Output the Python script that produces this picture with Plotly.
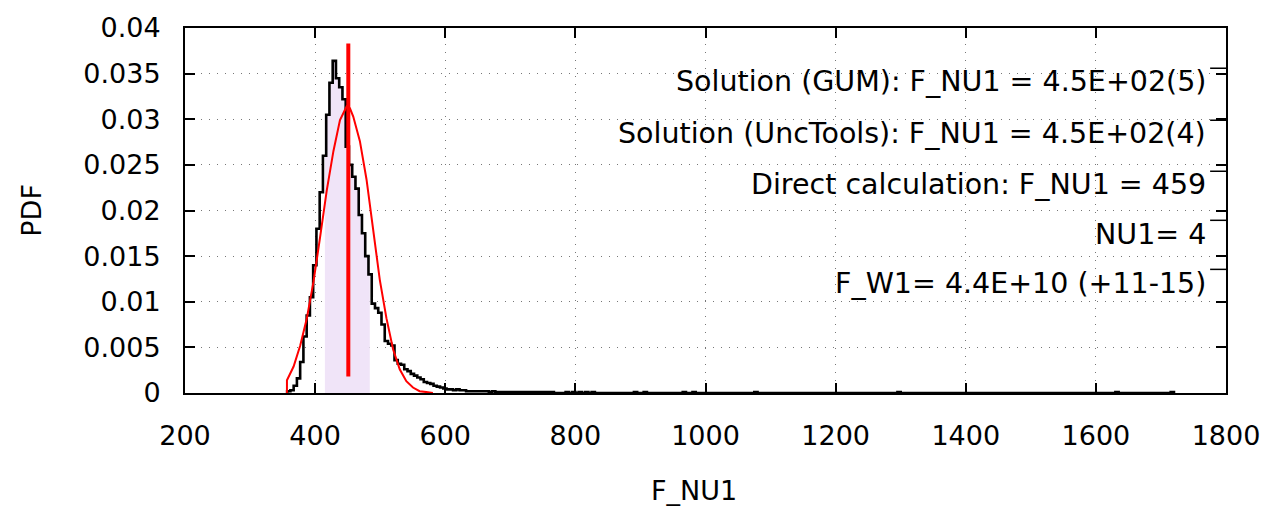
import plotly.graph_objects as go

# ---------------- data ----------------
hist_start = 357.0
bin_width = 5.0
hist_values = [
    0.0002, 0.0003, 0.0008, 0.0016, 0.0034, 0.0062, 0.0085, 0.0105, 0.0140, 0.0180,
    0.0220, 0.0260, 0.0305, 0.0340, 0.0364, 0.0345, 0.0335, 0.0322, 0.0270, 0.0250,
    0.0237, 0.0224, 0.0195, 0.0175, 0.0150, 0.0130, 0.0098, 0.0093, 0.0088, 0.0075,
    0.0057, 0.0054, 0.0052, 0.0036, 0.0032, 0.0031, 0.0026, 0.0024, 0.0021, 0.0019,
    0.0017, 0.0015, 0.0012, 0.0011, 0.0010, 0.0008, 0.0007, 0.0006, 0.0005, 0.0004,
    0.0004, 0.0003, 0.0004, 0.0003, 0.0003, 0.0002, 0.0002, 0.0002, 0.0002, 0.0002,
    0.0002, 0.0002, 0.0001, 0.0002, 0.0001, 0.0001, 0.0001, 0.0001, 0.0001, 0.0001,
    0.0001, 0.0001, 0.0001, 0.0001, 0.0001, 0.0001, 0.0001, 0.0001, 0.0001, 0.0001,
    0.0001, 0.0001,
]
# sparse far-tail bins (x left edge, value)
tail_x = [785, 795, 805, 815, 825, 890, 905, 965, 980, 1075, 1295, 1630, 1715]
tail_y = [0.0001, 0.0001, 0.0001, 0.0001, 0.0001, 0.0001, 0.0001, 0.0001, 0.0001,
          0.0001, 0.0001, 0.0001, 0.0001]

gum_x = [356.7, 356.7, 366.9, 377.1, 387.3, 397.5, 407.7, 417.9, 428.1, 438.2, 448.4,
         453.5, 458.6, 468.8, 479.0, 489.2, 499.4, 509.6, 519.8, 530.0, 540.2, 550.4,
         560.6, 570.8, 581.0]
gum_y = [0.0, 0.0014, 0.0029, 0.0052, 0.0082, 0.0122, 0.0171, 0.0222, 0.0265, 0.0299,
         0.0314, 0.0312, 0.0303, 0.0276, 0.0234, 0.0181, 0.0124, 0.0082, 0.0048, 0.0026,
         0.0013, 0.0006, 0.0002, 0.0001, 0.0]

mean_x = 451.0
mean_line_y = [0.0018, 0.0383]
ci_low, ci_high = 415.0, 484.0

labels = [
    "Solution (GUM): F_NU1 = 4.5E+02(5)",
    "Solution (UncTools): F_NU1 = 4.5E+02(4)",
    "Direct calculation: F_NU1 = 459",
    "NU1= 4",
    "F_W1= 4.4E+10 (+11-15)",
]
x_ticks = [200, 400, 600, 800, 1000, 1200, 1400, 1600, 1800]
y_ticks = [0, 0.005, 0.01, 0.015, 0.02, 0.025, 0.03, 0.035, 0.04]

# ---------------- geometry helpers ----------------
W, H = 1272, 509
L, R, T, B = 185, 38, 21, 116
pw, ph = W - L - R, H - T - B


def px2x(px):
    return (px - L) / pw


def py2y(py):
    return (H - B - py) / ph


# build histogram step arrays
edges = [hist_start + i * bin_width for i in range(len(hist_values))]
hx = [hist_start] + edges + [edges[-1] + bin_width]
hy = [0.0] + hist_values + [0.0]
for tx, ty in zip(tail_x, tail_y):
    hx += [tx, tx + bin_width]
    hy += [ty, 0.0]

# coverage interval fill under histogram
fx, fy = [ci_low], [0.0]
for e, v in zip(edges, hist_values):
    lo, hi = max(e, ci_low), min(e + bin_width, ci_high)
    if lo < hi:
        fx += [lo, hi]
        fy += [v, v]
fx += [ci_high]
fy += [0.0]

fig = go.Figure()
fig.add_trace(go.Scatter(x=fx, y=fy, mode="lines", fill="toself",
                         fillcolor="rgb(240,228,248)", line=dict(width=0),
                         hoverinfo="skip", showlegend=False))
fig.add_trace(go.Scatter(x=hx, y=hy, mode="lines", line=dict(color="black", width=2.6, shape="hv"),
                         showlegend=False))
fig.add_trace(go.Scatter(x=gum_x, y=gum_y, mode="lines", line=dict(color="#ff0000", width=2),
                         showlegend=False))
fig.add_trace(go.Scatter(x=[mean_x, mean_x], y=mean_line_y, mode="lines",
                         line=dict(color="#ff0000", width=4), showlegend=False))

FONT = "DejaVu Sans"
FS_TICK = 27
FS_LAB = 28.5

axis_common = dict(
    showline=True, linecolor="black", linewidth=2, mirror="ticks",
    ticks="inside", ticklen=10, tickwidth=1.5, tickcolor="black",
    showgrid=True, gridcolor="#777777", gridwidth=1, griddash="1px,7px",
    zeroline=False, tickfont=dict(family=FONT, size=FS_TICK, color="black"),
)

fig.update_xaxes(range=[200, 1800], tickvals=x_ticks, ticklabelstandoff=18, **axis_common)
fig.update_yaxes(range=[0, 0.04], tickvals=y_ticks, ticklabelstandoff=17, **axis_common)

annots = []
label_py = [76, 129, 181, 231, 281]
for txt, py in zip(labels, label_py):
    annots.append(dict(xref="paper", yref="paper", x=px2x(1216), y=py2y(py),
                       xanchor="right", yanchor="middle", text=txt, showarrow=False,
                       font=dict(family=FONT, size=FS_LAB, color="black")))
annots.append(dict(xref="paper", yref="paper", x=px2x(30), y=py2y(207), text="PDF",
                   textangle=-90, showarrow=False, xanchor="center", yanchor="middle",
                   font=dict(family=FONT, size=FS_TICK, color="black")))
annots.append(dict(xref="paper", yref="paper", x=px2x(698), y=py2y(492), text="F_NU1",
                   showarrow=False, xanchor="center", yanchor="middle",
                   font=dict(family=FONT, size=FS_TICK, color="black")))

shapes = []
for py in label_py:
    shapes.append(dict(type="line", xref="paper", yref="paper", x0=px2x(1218), x1=px2x(1234),
                       y0=py2y(py - 14), y1=py2y(py - 14), line=dict(color="black", width=1.5)))

fig.update_layout(
    width=W, height=H, margin=dict(l=L, r=R, t=T, b=B),
    plot_bgcolor="white", paper_bgcolor="white",
    annotations=annots, shapes=shapes, showlegend=False,
)

fig.write_html("out.html")
